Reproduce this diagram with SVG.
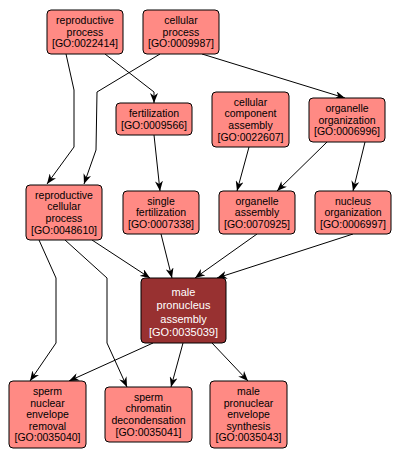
<svg xmlns="http://www.w3.org/2000/svg" width="402" height="460" viewBox="0 0 402 460">
<defs>
<style>
.n rect{fill:#FF8A84;stroke:#000;stroke-width:1}
.n text{font-family:"Liberation Sans",Arial,sans-serif;font-size:10.5px;fill:#000;text-anchor:middle}
.m rect{fill:#983131;stroke:#000;stroke-width:1}
.m text{font-family:"Liberation Sans",Arial,sans-serif;font-size:11px;fill:#fff;text-anchor:middle}
.e path{fill:none;stroke:#000;stroke-width:1;marker-end:url(#a)}
</style>
<marker id="a" markerWidth="10" markerHeight="8" refX="10" refY="4" orient="auto" markerUnits="userSpaceOnUse">
<path d="M0,0 L10,4 L0,8 L3,4 z" fill="#000"/>
</marker>
</defs>
<rect width="402" height="460" fill="#fff"/>
<g id="edges" class="e">
<path d="M66,54 L74,90 L74,147 L47,184"/>
<path d="M160,54 L97,92 L96,150 L84,184"/>
<path d="M105,54 L154,92 L154,103"/>
<path d="M202,54 L345,98"/>
<path d="M154,135 L160,191"/>
<path d="M249,147 L237,191"/>
<path d="M327,142 L277,191"/>
<path d="M365,142 L353,191"/>
<path d="M92,240 L150,278"/>
<path d="M161,234 L172,278"/>
<path d="M257,234 L195,278"/>
<path d="M353,234 L217,278"/>
<path d="M39,240 L56,278 L56,343 L30,381"/>
<path d="M65,240 L107,278 L107,343 L127,387"/>
<path d="M153,343 L69,381"/>
<path d="M183,343 L171,387"/>
<path d="M212,343 L248,381"/>
</g>
<g id="n1" class="n"><rect x="47" y="10" width="76" height="44" rx="4"/>
<text x="85" y="24.1">reproductive</text><text x="85" y="35.7">process</text><text x="85" y="47.3">[GO:0022414]</text></g>
<g id="n2" class="n"><rect x="143" y="10" width="76" height="44" rx="4"/>
<text x="181" y="24.1">cellular</text><text x="181" y="35.7">process</text><text x="181" y="47.3">[GO:0009987]</text></g>
<g id="n3" class="n"><rect x="116" y="103" width="76" height="32" rx="4"/>
<text x="154" y="116.9">fertilization</text><text x="154" y="128.5">[GO:0009566]</text></g>
<g id="n4" class="n"><rect x="212" y="92" width="77" height="55" rx="4"/>
<text x="250.5" y="105.8">cellular</text><text x="250.5" y="117.4">component</text><text x="250.5" y="129">assembly</text><text x="250.5" y="140.6">[GO:0022607]</text></g>
<g id="n5" class="n"><rect x="309" y="98" width="76" height="44" rx="4"/>
<text x="347" y="112.1">organelle</text><text x="347" y="123.7">organization</text><text x="347" y="135.3">[GO:0006996]</text></g>
<g id="n6" class="n"><rect x="26" y="185" width="76" height="55" rx="4"/>
<text x="64" y="198.8">reproductive</text><text x="64" y="210.4">cellular</text><text x="64" y="222">process</text><text x="64" y="233.6">[GO:0048610]</text></g>
<g id="n7" class="n"><rect x="123" y="191" width="76" height="43" rx="4"/>
<text x="161" y="204.6">single</text><text x="161" y="216.2">fertilization</text><text x="161" y="227.8">[GO:0007338]</text></g>
<g id="n8" class="n"><rect x="219" y="191" width="76" height="43" rx="4"/>
<text x="257" y="204.6">organelle</text><text x="257" y="216.2">assembly</text><text x="257" y="227.8">[GO:0070925]</text></g>
<g id="n9" class="n"><rect x="315" y="191" width="76" height="43" rx="4"/>
<text x="353" y="204.6">nucleus</text><text x="353" y="216.2">organization</text><text x="353" y="227.8">[GO:0006997]</text></g>
<g id="n10" class="m"><rect x="141" y="278" width="85" height="65" rx="4"/>
<text x="183.5" y="295.6">male</text><text x="183.5" y="309.2">pronucleus</text><text x="183.5" y="322.8">assembly</text><text x="183.5" y="336.4">[GO:0035039]</text></g>
<g id="n11" class="n"><rect x="9" y="381" width="77" height="67" rx="4"/>
<text x="47.5" y="395">sperm</text><text x="47.5" y="406.6">nuclear</text><text x="47.5" y="418.2">envelope</text><text x="47.5" y="429.8">removal</text><text x="47.5" y="441.4">[GO:0035040]</text></g>
<g id="n12" class="n"><rect x="105" y="387" width="87" height="55" rx="4"/>
<text x="148.5" y="400.8">sperm</text><text x="148.5" y="412.4">chromatin</text><text x="148.5" y="424">decondensation</text><text x="148.5" y="435.6">[GO:0035041]</text></g>
<g id="n13" class="n"><rect x="210" y="381" width="77" height="67" rx="4"/>
<text x="248.5" y="395">male</text><text x="248.5" y="406.6">pronuclear</text><text x="248.5" y="418.2">envelope</text><text x="248.5" y="429.8">synthesis</text><text x="248.5" y="441.4">[GO:0035043]</text></g>
</svg>
